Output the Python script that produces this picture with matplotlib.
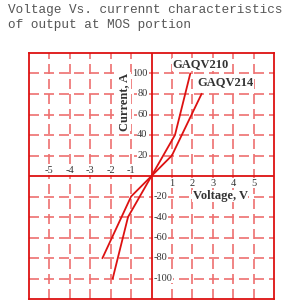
import matplotlib
matplotlib.use("Agg")
from matplotlib import pyplot as plt

# curve data (voltage V, current A)
gaqv210_v = [-1.9, -1.15, 0.0, 1.15, 1.9]
gaqv210_i = [-100, -40, 0, 40, 100]
gaqv214_v = [-2.4, -1.0, 0.0, 1.0, 2.45]
gaqv214_i = [-80, -20, 0, 20, 80]

x_ticks = [-5, -4, -3, -2, -1, 1, 2, 3, 4, 5]
y_ticks = [-100, -80, -60, -40, -20, 20, 40, 60, 80, 100]

red = '#dd1111'
grid_red = '#ee7070'
txt = '#333333'
serif = 'Liberation Serif'

fig = plt.figure(figsize=(2.89, 3.01), dpi=100)
ax = fig.add_axes([29 / 289, 2 / 301, 245 / 289, 246 / 301])
ax.set_xlim(-6, 6)
ax.set_ylim(-120, 120)
ax.set_xticks([])
ax.set_yticks([])
for sp in ax.spines.values():
    sp.set_color(red)
    sp.set_linewidth(1.3)

# dashed grid
for xv in x_ticks:
    ax.axvline(xv, color=grid_red, lw=1.2, ls=(0, (6, 3)), zorder=1)
for yv in y_ticks:
    ax.axhline(yv, color=grid_red, lw=1.2, ls=(0, (6, 3)), zorder=1)
ax.axvline(0, color=red, lw=1.3, zorder=2)
ax.axhline(0, color=red, lw=1.3, zorder=2)

# tick labels drawn inside the plot
box = dict(facecolor='white', edgecolor='none', pad=0.3)
for xv in x_ticks:
    if xv < 0:
        ax.text(xv, 5.5, str(xv), ha='center', va='center', fontsize=7.5,
                family=serif, color=txt, bbox=box, zorder=3)
    else:
        ax.text(xv, -7, str(xv), ha='center', va='center', fontsize=7.5,
                family=serif, color=txt, bbox=box, zorder=3)
for yv in y_ticks:
    if yv > 0:
        ax.text(-0.2, yv, str(yv), ha='right', va='center', fontsize=7.5,
                family=serif, color=txt, bbox=box, zorder=3)
    else:
        ax.text(0.1, yv, str(yv), ha='left', va='center', fontsize=7.5,
                family=serif, color=txt, bbox=box, zorder=3)

ax.plot(gaqv210_v, gaqv210_i, color=red, lw=1.3, zorder=4)
ax.plot(gaqv214_v, gaqv214_i, color=red, lw=1.3, zorder=4)

ax.text(2.42, 109, 'GAQV210', ha='center', va='center', fontsize=9,
        fontweight='bold', family=serif, color=txt, bbox=box, zorder=5)
ax.text(3.6, 91.5, 'GAQV214', ha='center', va='center', fontsize=9,
        fontweight='bold', family=serif, color=txt, bbox=box, zorder=5)
ax.text(3.37, -19.5, 'Voltage, V', ha='center', va='center', fontsize=9,
        fontweight='bold', family=serif, color=txt, bbox=box, zorder=5)
ax.text(-1.32, 72.5, 'Current, A', ha='center', va='center', fontsize=9,
        fontweight='bold', family=serif, color=txt, rotation=90,
        bbox=box, zorder=5)

fig.text(8 / 289, 1 - 4 / 301,
         'Voltage Vs. currennt characteristics\nof output at MOS portion',
         ha='left', va='top', fontsize=9.2, family='Liberation Mono',
         color='#555555', linespacing=1.35)

fig.savefig('out.png', dpi=100)
